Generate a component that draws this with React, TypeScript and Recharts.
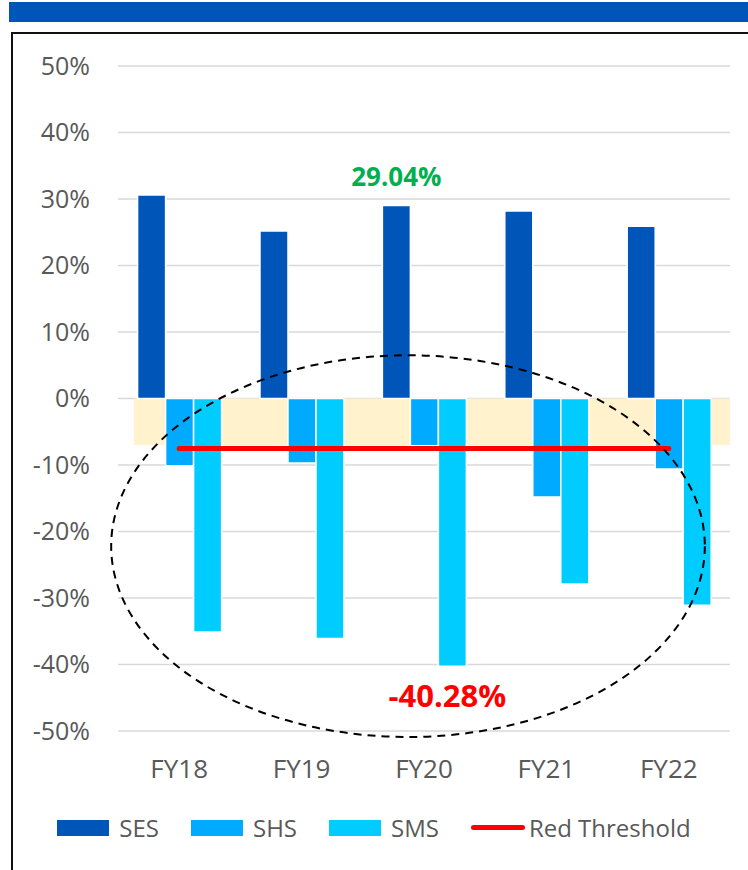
import React from "react";
import {
  Bar,
  CartesianGrid,
  ComposedChart,
  LabelList,
  Legend,
  Line,
  ReferenceArea,
  XAxis,
  YAxis,
} from "recharts";

const categories = ["FY18", "FY19", "FY20", "FY21", "FY22"];
const ses = [30.6, 25.2, 29.04, 28.2, 25.9];
const shs = [-10.1, -9.7, -7.1, -14.8, -10.6];
const sms = [-35.1, -36.1, -40.28, -27.9, -31.1];
const redThreshold = -7.5;
const bandTop = 0;
const bandBottom = -7;
const yTicks = [-50, -40, -30, -20, -10, 0, 10, 20, 30, 40, 50];
const highlightCategory = "FY20";
const legendOrder = ["SES", "SHS", "SMS", "Red Threshold"];

const data = categories.map((cat, i) => ({
  cat,
  SES: ses[i],
  SHS: shs[i],
  SMS: sms[i],
  threshold: redThreshold,
}));

const FONT = "'Open Sans', sans-serif";
const TEXT = "#595959";

const COLORS = {
  SES: "#0055B8",
  SHS: "#00AAFF",
  SMS: "#00CCFF",
  line: "#FF0000",
};

function fmt(v: number) {
  return `${v.toFixed(2)}%`;
}

function TopLabel(props: any) {
  const { x, y, width, height, index, value } = props;
  if (categories[index] !== highlightCategory) return null;
  const top = Math.min(y, y + height);
  return (
    <text
      x={x + width / 2}
      y={top - 29}
      textAnchor="middle"
      dominantBaseline="central"
      fill="#00B050"
      fontWeight="bold"
      fontSize={26}
      fontFamily={FONT}
    >
      {fmt(value)}
    </text>
  );
}

function BottomLabel(props: any) {
  const { x, y, width, height, index, value } = props;
  if (categories[index] !== highlightCategory) return null;
  const bottom = Math.max(y, y + height);
  return (
    <text
      x={x + width / 2 - 5}
      y={bottom + 29}
      textAnchor="middle"
      dominantBaseline="central"
      fill="#FF0000"
      fontWeight="bold"
      fontSize={31}
      fontFamily={FONT}
    >
      {fmt(value)}
    </text>
  );
}

function BandShape(props: any) {
  const { x, y, width, height } = props;
  return <rect x={x + 16} y={y} width={width - 16} height={height} fill="#FFF2CC" />;
}

function EllipseShape(props: any) {
  const { x, y, width, height } = props;
  return (
    <ellipse
      cx={x + width / 2 - 16}
      cy={y + height / 2}
      rx={width * 0.485}
      ry={height / 2}
      fill="none"
      stroke="#000"
      strokeWidth={2}
      strokeDasharray="8 6"
    />
  );
}

function LegendContent(props: any) {
  const payload = [...(props.payload || [])].sort(
    (a: any, b: any) => legendOrder.indexOf(a.value) - legendOrder.indexOf(b.value)
  );
  return (
    <div
      style={{
        display: "flex",
        alignItems: "center",
        justifyContent: "center",
        fontFamily: FONT,
        fontSize: 24,
        color: TEXT,
      }}
    >
      {payload.map((p: any) => {
        const isLine = p.type === "line";
        return (
          <div
            key={p.value}
            style={{ display: "flex", alignItems: "center", marginRight: isLine ? 0 : 32 }}
          >
            {isLine ? (
              <div
                style={{
                  width: 54,
                  height: 5,
                  borderRadius: 3,
                  background: p.color,
                  marginRight: 4,
                }}
              />
            ) : (
              <div style={{ width: 52, height: 16, background: p.color, marginRight: 10 }} />
            )}
            <span>{p.value}</span>
          </div>
        );
      })}
    </div>
  );
}

export default function App() {
  return (
    <div style={{ position: "absolute", left: 0, top: 0, width: 748, height: 870, overflow: "hidden", background: "#fff" }}>
      <div style={{ position: "absolute", left: 9, top: 2, width: 739, height: 20, background: "#0055B8" }} />
      <div
        style={{
          position: "absolute",
          left: 11,
          top: 32,
          width: 760,
          height: 860,
          border: "2px solid #111",
        }}
      />
      <div style={{ position: "absolute", left: 0, top: 0 }}>
        <ComposedChart
          width={748}
          height={870}
          data={data}
          margin={{ top: 66, right: 18, left: 0, bottom: 76 }}
          barGap={0}
          barCategoryGap="16%"
        >
          <CartesianGrid vertical={false} stroke="#D9D9D9" strokeWidth={1.5} />
          <XAxis
            dataKey="cat"
            axisLine={false}
            tickLine={false}
            tickSize={0}
            tickMargin={29}
            tick={{ fill: TEXT, fontSize: 26, fontFamily: FONT }}
          />
          <YAxis
            width={118}
            domain={[-50, 50]}
            ticks={yTicks}
            interval={0}
            axisLine={false}
            tickLine={false}
            tickSize={0}
            tickMargin={28}
            tickFormatter={(v: number) => `${v}%`}
            tick={{ fill: TEXT, fontSize: 25, fontFamily: FONT }}
          />
          <ReferenceArea
            x1={categories[0]}
            x2={categories[categories.length - 1]}
            y1={bandTop}
            y2={bandBottom}
            shape={BandShape}
            ifOverflow="visible"
          />
          <Bar dataKey="SES" name="SES" fill={COLORS.SES} stroke="#fff" strokeWidth={1.5} isAnimationActive={false}>
            <LabelList dataKey="SES" content={TopLabel} />
          </Bar>
          <Bar dataKey="SHS" name="SHS" fill={COLORS.SHS} stroke="#fff" strokeWidth={1.5} isAnimationActive={false} />
          <Bar dataKey="SMS" name="SMS" fill={COLORS.SMS} stroke="#fff" strokeWidth={1.5} isAnimationActive={false}>
            <LabelList dataKey="SMS" content={BottomLabel} />
          </Bar>
          <Line
            dataKey="threshold"
            name="Red Threshold"
            type="linear"
            stroke={COLORS.line}
            strokeWidth={5}
            strokeLinecap="round"
            dot={false}
            activeDot={false}
            legendType="line"
            isAnimationActive={false}
          />
          <ReferenceArea
            x1={categories[0]}
            x2={categories[categories.length - 1]}
            y1={6.5}
            y2={-50.9}
            shape={EllipseShape}
            ifOverflow="visible"
            zIndex={2000}
          />
          <Legend
            verticalAlign="bottom"
            content={LegendContent}
            wrapperStyle={{ bottom: 26, left: 0, width: 748 }}
          />
        </ComposedChart>
      </div>
    </div>
  );
}
